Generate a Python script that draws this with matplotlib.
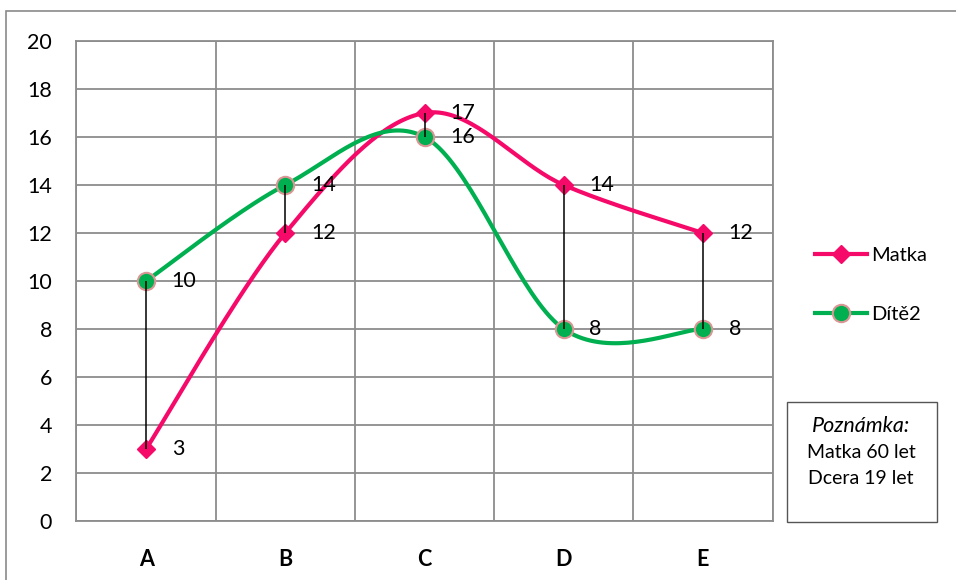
import numpy as np
import matplotlib
matplotlib.use('Agg')
import matplotlib.pyplot as plt
import matplotlib.patches as patches
import matplotlib.lines as mlines

categories = ['A', 'B', 'C', 'D', 'E']
matka = [3, 12, 17, 14, 12]
dite = [10, 14, 16, 8, 8]
series_names = ['Matka', 'Dítě2']
note_title = 'Poznámka:'
note_lines = ['Matka 60 let', 'Dcera 19 let']

PINK = '#F50A6A'
GREEN = '#00B050'
GRID = '#8C8C8C'

plt.rcParams['font.family'] = ['Lato', 'DejaVu Sans']

def smooth(xs, ys, n = 40):
	# Excel-style smoothed line (Catmull-Rom via cubic Bezier)
	pts = np.column_stack([xs, ys]).astype(float)
	outx, outy = [], []
	for i in range(len(pts) - 1):
		p0 = pts[i - 1] if i > 0 else pts[i]
		p1 = pts[i]
		p2 = pts[i + 1]
		p3 = pts[i + 2] if i + 2 < len(pts) else pts[i + 1]
		c1 = p1 + (p2 - p0) / 6
		c2 = p2 - (p3 - p1) / 6
		t = np.linspace(0, 1, n)[:, None]
		seg = (1 - t)**3 * p1 + 3 * (1 - t)**2 * t * c1 + 3 * (1 - t) * t**2 * c2 + t**3 * p2
		outx.extend(seg[:, 0]); outy.extend(seg[:, 1])
	return outx, outy

fig = plt.figure(figsize = (9.56, 5.8), dpi = 100)
ax = fig.add_axes([0.0800, 0.1017, 0.7281, 0.8276])

x = np.arange(len(categories))

# outer chart border (only left/top visible)
fig.add_artist(patches.Rectangle((6 / 956, -0.2), 1.2, 1 - 11 / 580 + 0.2, transform = fig.transFigure,
	fill = False, edgecolor = '#8A8A8A', linewidth = 1.2, clip_on = False))

sx, sy = smooth(x, matka)
ax.plot(sx, sy, color = PINK, linewidth = 3, zorder = 3, solid_capstyle = 'round')
sx, sy = smooth(x, dite)
ax.plot(sx, sy, color = GREEN, linewidth = 3, zorder = 3, solid_capstyle = 'round')

ax.plot(x, matka, linestyle = 'None', marker = 'D', markersize = 9.5, color = PINK, zorder = 4)
ax.plot(x, dite, linestyle = 'None', marker = 'o', markersize = 12.5, markerfacecolor = GREEN,
	markeredgecolor = '#D99694', markeredgewidth = 1.5, zorder = 4)

# high-low lines
ax.vlines(x, np.minimum(matka, dite), np.maximum(matka, dite), color = 'black', linewidth = 1.1, zorder = 5)

for i in range(len(categories)):
	ax.annotate(str(matka[i]), (x[i], matka[i]), xytext = (18.5, 0), textcoords = 'offset points',
		va = 'center', ha = 'left', fontsize = 15.5, zorder = 6)
	ax.annotate(str(dite[i]), (x[i], dite[i]), xytext = (18.5, 0), textcoords = 'offset points',
		va = 'center', ha = 'left', fontsize = 15.5, zorder = 6)

ax.set_xlim(-0.5, len(categories) - 0.5)
ax.set_ylim(0, 20)
ax.set_yticks(range(0, 21, 2))
ax.set_xticks(x)
ax.set_xticklabels(categories, fontweight = 'bold')
ax.set_xticks(np.arange(-0.5, len(categories)), minor = True)
ax.tick_params(axis = 'x', which = 'both', length = 0, pad = 20, labelsize = 15.5)
ax.tick_params(axis = 'y', length = 0, pad = 17.5, labelsize = 15.5)
ax.grid(True, which = 'major', axis = 'y', color = GRID, linewidth = 1.3)
ax.grid(True, which = 'minor', axis = 'x', color = GRID, linewidth = 1.3)
for s in ax.spines.values():
	s.set_color(GRID)
	s.set_linewidth(1.3)

handles = [
	mlines.Line2D([], [], color = PINK, linewidth = 3, marker = 'D', markersize = 9.5),
	mlines.Line2D([], [], color = GREEN, linewidth = 3, marker = 'o', markersize = 12.5,
		markeredgecolor = '#D99694', markeredgewidth = 1.5),
]
fig.legend(handles, series_names, loc = 'center left', bbox_to_anchor = (805 / 956, 1 - 285 / 580),
	frameon = False, fontsize = 14.5, handlelength = 2.6, handletextpad = 0.2, labelspacing = 2.1, borderpad = 0)

# note box
fig.add_artist(patches.Rectangle((787 / 956, 1 - 522 / 580), 150 / 956, 120 / 580, transform = fig.transFigure,
	fill = False, edgecolor = '#555555', linewidth = 1))
fig.text(861 / 956, 1 - 426 / 580, note_title, ha = 'center', va = 'center', fontsize = 15.5, style = 'italic')
fig.text(861 / 956, 1 - 453 / 580, note_lines[0], ha = 'center', va = 'center', fontsize = 14)
fig.text(861 / 956, 1 - 479 / 580, note_lines[1], ha = 'center', va = 'center', fontsize = 14)

fig.savefig('out.png', dpi = 100)
